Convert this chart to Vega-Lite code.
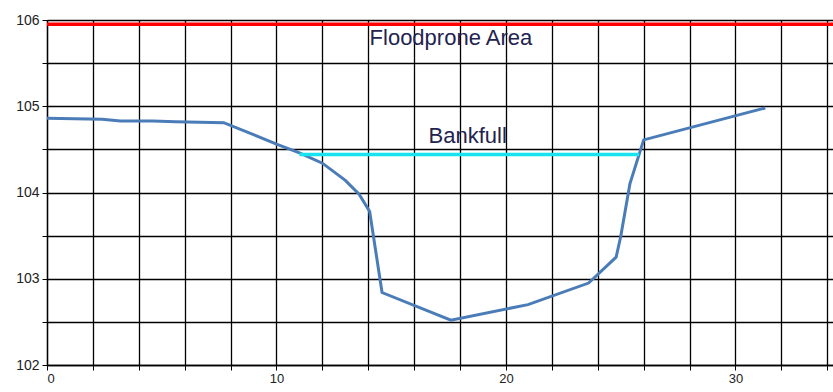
{
  "$schema": "https://vega.github.io/schema/vega-lite/v6.json",
  "autosize": "none",
  "width": 786,
  "height": 345,
  "padding": {"left": 47, "top": 20, "right": 0, "bottom": 27},
  "background": "white",
  "config": {
    "view": {"stroke": null},
    "font": "Liberation Sans",
    "axis": {"gridColor": "#000000", "gridOpacity": 1, "gridWidth": 1.3, "domainColor": "#000000", "tickColor": "#000000", "labelColor": "#222222", "labelFont": "Liberation Sans", "labelFontSize": 14, "title": null}
  },
  "datasets": {
    "profile": [
      {"station": 0, "elev": 104.86},
      {"station": 2.4, "elev": 104.85},
      {"station": 3.2, "elev": 104.83},
      {"station": 4.6, "elev": 104.83},
      {"station": 5.6, "elev": 104.82},
      {"station": 7.7, "elev": 104.81},
      {"station": 9.0, "elev": 104.67},
      {"station": 10.0, "elev": 104.56},
      {"station": 11.0, "elev": 104.46},
      {"station": 12.0, "elev": 104.34},
      {"station": 13.0, "elev": 104.14},
      {"station": 13.6, "elev": 103.98},
      {"station": 14.06, "elev": 103.78},
      {"station": 14.6, "elev": 102.84},
      {"station": 17.6, "elev": 102.52},
      {"station": 20.96, "elev": 102.7},
      {"station": 23.6, "elev": 102.95},
      {"station": 24.8, "elev": 103.25},
      {"station": 25.0, "elev": 103.49},
      {"station": 25.4, "elev": 104.1},
      {"station": 26.0, "elev": 104.61},
      {"station": 31.3, "elev": 104.98}
    ],
    "flood": [{"elev": 105.95}],
    "bankfull": [{"x1": 11.0, "x2": 25.8, "elev": 104.44}],
    "labels": [
      {"station": 17.6, "elev": 105.71, "text": "Floodprone Area"},
      {"station": 18.33, "elev": 104.57, "text": "Bankfull"}
    ]
  },
  "layer": [
    {
      "data": {"name": "profile"},
      "mark": {"type": "line", "color": "#4a7cb8", "strokeWidth": 3, "clip": true},
      "encoding": {
        "x": {
          "field": "station", "type": "quantitative",
          "scale": {"domain": [0, 34.25], "nice": false, "zero": false},
          "axis": {
            "values": [0,1,2,3,4,5,6,7,8,9,10,11,12,13,14,15,16,17,18,19,20,21,22,23,24,25,26,27,28,29,30,31,32,33,34],
            "labelExpr": "datum.value % 5 == 0 ? format(datum.value, 'd') : ''",
            "labelFontSize": 13,
            "grid": true, "tickSize": 5, "labelPadding": 2, "domain": true, "domainWidth": 1.3
          }
        },
        "y": {
          "field": "elev", "type": "quantitative",
          "scale": {"domain": [102, 106], "nice": false, "zero": false},
          "axis": {
            "values": [102, 102.5, 103, 103.5, 104, 104.5, 105, 105.5, 106],
            "labelExpr": "datum.value % 1 == 0 ? format(datum.value, 'd') : ''",
            "grid": true, "tickSize": 5, "labelPadding": 3, "domainWidth": 1.3
          }
        },
        "order": {"field": "station", "type": "quantitative"}
      }
    },
    {
      "data": {"name": "flood"},
      "mark": {"type": "rule", "color": "#ff0000", "strokeWidth": 3.5},
      "encoding": {
        "y": {"field": "elev", "type": "quantitative"}
      }
    },
    {
      "data": {"name": "bankfull"},
      "mark": {"type": "rule", "color": "#19e3ef", "strokeWidth": 3.5},
      "encoding": {
        "x": {"field": "x1", "type": "quantitative"},
        "x2": {"field": "x2"},
        "y": {"field": "elev", "type": "quantitative"}
      }
    },
    {
      "data": {"name": "labels"},
      "mark": {"type": "text", "color": "#23234f", "fontSize": 22, "align": "center", "baseline": "alphabetic", "font": "Liberation Sans"},
      "encoding": {
        "x": {"field": "station", "type": "quantitative"},
        "y": {"field": "elev", "type": "quantitative"},
        "text": {"field": "text"}
      }
    }
  ]
}
